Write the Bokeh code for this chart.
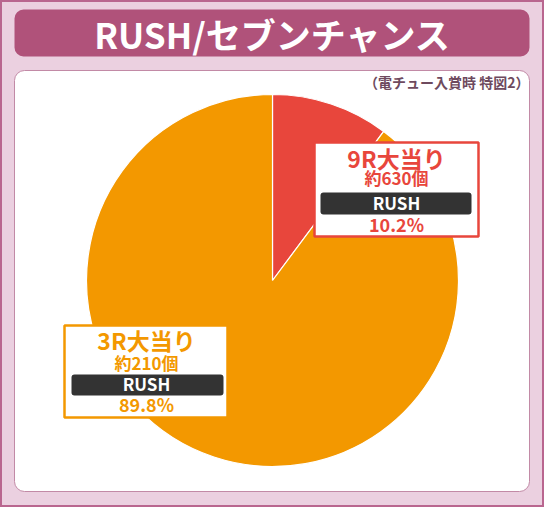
import numpy as np
from bokeh.plotting import figure
from bokeh.models import Range1d, BoxAnnotation, ColumnDataSource
from bokeh.core.properties import value
from bokeh.embed import file_html
from bokeh.resources import INLINE

# ---- data ----
title = "RUSH/セブンチャンス"
note = "（電チュー入賞時 特図2）"
labels = ["9R大当り", "3R大当り"]
counts = ["約630個", "約210個"]
kinds = ["RUSH", "RUSH"]
shares = [10.2, 89.8]
colors = ["#E8463C", "#F39800"]

H = 523
def Y(v):
    return H - v

FONT = value("Noto Sans CJK JP")

p = figure(width=544, height=507, output_backend="svg", toolbar_location=None,
           x_range=Range1d(8, 552), y_range=Range1d(8, 515), min_border=0)
p.axis.visible = False
p.grid.visible = False
p.background_fill_color = "#EBD0E0"
p.border_fill_color = "#EBD0E0"
p.outline_line_color = "#B9668F"
p.outline_line_width = 3
p.outline_line_alpha = 1

# title bar and inner panel
p.add_layout(BoxAnnotation(left=22, right=537, top=Y(17), bottom=Y(64), fill_color="#B0527A",
                           fill_alpha=1, line_alpha=0, border_radius=9, level="underlay"))
p.add_layout(BoxAnnotation(left=22, right=537, top=Y(78), bottom=Y(499), fill_color="white",
                           fill_alpha=1, line_color="#C28AA6", line_alpha=1, line_width=1,
                           border_radius=10, level="underlay"))

# pie
frac = np.cumsum([0] + shares) / 100.0 * 2 * np.pi
src = ColumnDataSource(dict(start=np.pi / 2 - frac[1:], end=np.pi / 2 - frac[:-1], color=colors))
p.wedge(x=280, y=Y(288), radius=186, start_angle="start", end_angle="end", direction="anticlock",
        fill_color="color", line_color="white", line_width=1.2, source=src)

# label boxes
boxes = [(322, 486, 150, 244, 328, 479, 200, 222), (72, 235, 333, 425, 79, 231, 382, 403)]
for (l, r, t, b, bl, br, bt, bb), c in zip(boxes, colors):
    p.add_layout(BoxAnnotation(left=l, right=r, top=Y(t), bottom=Y(b), fill_color="white",
                               fill_alpha=1, line_color=c, line_alpha=1, line_width=2.5))
    p.add_layout(BoxAnnotation(left=bl, right=br, top=Y(bt), bottom=Y(bb), fill_color="#333333",
                               fill_alpha=1, line_alpha=0, border_radius=3))

cx = [404, 154]
rows = [
    (labels, [165, 347], "23px", colors),
    (counts, [185, 370], "17px", colors),
    (kinds, [210, 391], "17px", ["white", "white"]),
    ([f"{s:.1f}%" for s in shares], [231, 411], "18px", colors),
]
for texts, ys, size, cols in rows:
    s = ColumnDataSource(dict(x=cx, y=[Y(v) for v in ys], t=texts, c=cols))
    p.text(x="x", y="y", text="t", text_color="c", source=s, text_align="center",
           text_baseline="middle", text_font=FONT, text_font_style="bold",
           text_font_size=size, level="overlay")

# title and note
p.text(x=[280], y=[Y(41)], text=[title], text_color="white", text_align="center",
       text_baseline="middle", text_font=FONT, text_font_style="bold",
       text_font_size="35px", level="overlay")
p.text(x=[537], y=[Y(89)], text=[note], text_color="#6E4A5E", text_align="right",
       text_baseline="middle", text_font=FONT, text_font_style="bold",
       text_font_size="14px", level="overlay")

open("out.html", "w").write(file_html(p, INLINE))
